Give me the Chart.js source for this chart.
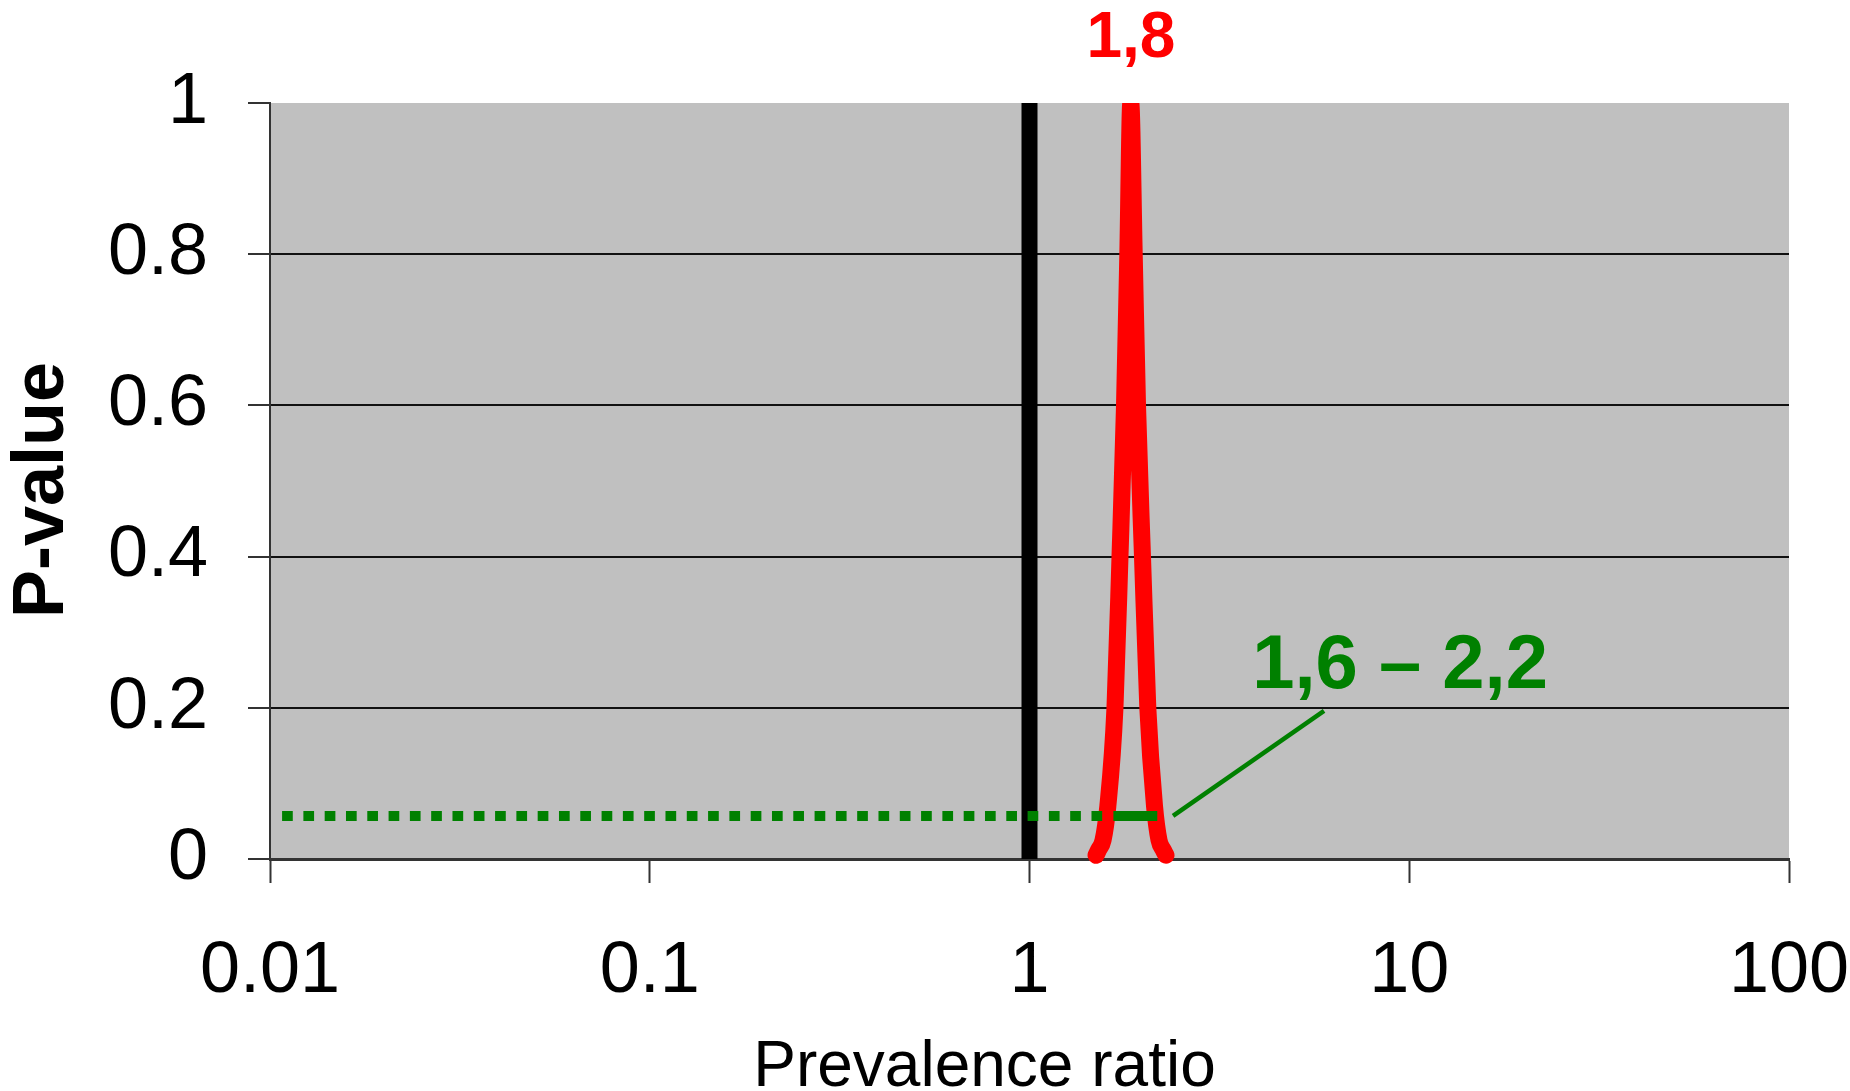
<!DOCTYPE html>
<html>
<head>
<meta charset="utf-8">
<script src="https://cdn.jsdelivr.net/npm/chart.js@4.4.0/dist/chart.umd.min.js"></script>
<style>
  html, body { margin: 0; padding: 0; background: #ffffff; }
  #wrap { position: relative; width: 1850px; height: 1091px; }
  canvas { display: block; }
</style>
</head>
<body>
<div id="wrap"><canvas id="c" width="1850" height="1091" style="width:1850px;height:1091px"></canvas></div>
<script>
// ---- data ----
const xTickValues = [0.01, 0.1, 1, 10, 100];
const xTickLabels = ['0.01', '0.1', '1', '10', '100'];
const yTickValues = [0, 0.2, 0.4, 0.6, 0.8, 1];
const yTickLabels = ['0', '0.2', '0.4', '0.6', '0.8', '1'];

// p-value function
const curveRatio  = [1.497, 1.52, 1.562, 1.608, 1.679, 1.731, 1.779, 1.815, 1.848, 1.887, 1.925, 1.984, 2.049, 2.134, 2.193, 2.25, 2.288];
const curvePValue = [0.005, 0.012, 0.025, 0.07, 0.2, 0.4, 0.6, 0.8, 1.0, 0.8, 0.6, 0.4, 0.2, 0.07, 0.025, 0.012, 0.005];

// null value line
const nullRatio = [1, 1];
const nullPValue = [0, 1];

// confidence interval line
const ciLevel = 0.057;
const ciDottedRatio = [0.01076, 1.564];
const ciSolidRatio = [1.663, 2.170];

// leader line to CI label
const leaderRatio = [2.388, 5.965];
const leaderPValue = [0.057, 0.196];

// annotation labels
const peakLabel = '1,8';
const peakLabelRatio = 1.85;
const ciLabel = '1,6 – 2,2';
const ciLabelRatio = 9.46;
const ciLabelPValue = 0.226;

const xTitle = 'Prevalence ratio';
const yTitle = 'P-value';

// ---- helpers ----
const toPoints = (xs, ys) => xs.map((x, i) => ({ x: x, y: ys[i] }));
const FONT = '"Liberation Sans", Arial, Helvetica, sans-serif';

const plotBg = {
  id: 'plotBg',
  beforeDraw(chart) {
    const { ctx, chartArea: a } = chart;
    ctx.save();
    ctx.fillStyle = '#C0C0C0';
    ctx.fillRect(a.left, a.top, a.right - a.left, a.bottom - a.top);
    ctx.restore();
  }
};

const textPlugin = {
  id: 'textPlugin',
  afterDraw(chart) {
    const { ctx, chartArea: a } = chart;
    const xs = chart.scales.x, ys = chart.scales.y;
    ctx.save();
    // peak label
    ctx.fillStyle = '#FF0000';
    ctx.font = 'bold 64px ' + FONT;
    ctx.textAlign = 'center';
    ctx.textBaseline = 'alphabetic';
    ctx.fillText(peakLabel, xs.getPixelForValue(peakLabelRatio), a.top - 46);
    // CI label
    ctx.fillStyle = '#008000';
    ctx.font = 'bold 76px ' + FONT;
    ctx.fillText(ciLabel, xs.getPixelForValue(ciLabelRatio), ys.getPixelForValue(ciLabelPValue));
    // x title
    ctx.fillStyle = '#000000';
    ctx.font = '64px ' + FONT;
    ctx.fillText(xTitle, (a.left + a.right) / 2 - 45, 1086);
    // y title
    ctx.translate(63, (a.top + a.bottom) / 2 + 9);
    ctx.rotate(-Math.PI / 2);
    ctx.font = 'bold 72px ' + FONT;
    ctx.fillText(yTitle, 0, 0);
    ctx.restore();
  }
};

new Chart(document.getElementById('c'), {
  type: 'line',
  data: {
    datasets: [
      {
        label: 'CI solid',
        data: toPoints(ciSolidRatio, [ciLevel, ciLevel]),
        borderColor: '#008000', borderWidth: 10, borderCapStyle: 'butt',
        pointRadius: 0, tension: 0, clip: 20
      },
      {
        label: 'CI dotted',
        data: toPoints(ciDottedRatio, [ciLevel, ciLevel]),
        borderColor: '#008000', borderWidth: 10, borderDash: [10.7, 10.6], borderCapStyle: 'butt',
        pointRadius: 0, tension: 0, clip: 20
      },
      {
        label: 'leader',
        data: toPoints(leaderRatio, leaderPValue),
        borderColor: '#008000', borderWidth: 4.5, borderCapStyle: 'butt',
        pointRadius: 0, tension: 0, clip: 20
      },
      {
        label: 'p-value function',
        data: toPoints(curveRatio, curvePValue),
        borderColor: '#FF0000', borderWidth: 17, borderCapStyle: 'round', borderJoinStyle: 'round',
        pointRadius: 0, tension: 0.4, cubicInterpolationMode: 'monotone',
        clip: { left: 20, right: 20, top: 0, bottom: 20 }
      },
      {
        label: 'null',
        data: toPoints(nullRatio, nullPValue),
        borderColor: '#000000', borderWidth: 16, borderCapStyle: 'butt',
        pointRadius: 0, tension: 0, clip: 0
      }
    ]
  },
  options: {
    responsive: false,
    maintainAspectRatio: false,
    animation: false,
    devicePixelRatio: 1,
    layout: { padding: { top: 103, right: 61, left: 0, bottom: 0 } },
    plugins: { legend: { display: false }, tooltip: { enabled: false }, title: { display: false } },
    scales: {
      x: {
        type: 'logarithmic',
        min: 0.01, max: 100,
        afterBuildTicks(scale) { scale.ticks = xTickValues.map(v => ({ value: v })); },
        afterFit(scale) { scale.height = 232; scale.paddingLeft = 0; scale.paddingRight = 0; },
        grid: { drawOnChartArea: false, drawTicks: true, tickLength: 24, tickColor: '#333333', tickWidth: 2 },
        border: { display: true, color: '#333333', width: 3 },
        ticks: {
          autoSkip: false, maxRotation: 0, minRotation: 0,
          padding: 46, color: '#000000',
          font: { family: FONT, size: 72 },
          callback(value, index) { return xTickLabels[index]; }
        }
      },
      y: {
        type: 'linear',
        min: 0, max: 1,
        afterBuildTicks(scale) { scale.ticks = yTickValues.map(v => ({ value: v })); },
        afterFit(scale) { scale.width = 270; scale.paddingTop = 0; scale.paddingBottom = 0; },
        grid: {
          color: (c) => (c.tick && c.tick.value >= 1 ? 'rgba(0,0,0,0)' : '#111111'),
          lineWidth: 2,
          drawTicks: true, tickLength: 22, tickColor: '#333333', tickWidth: 2
        },
        border: { display: true, color: '#333333', width: 2 },
        ticks: {
          padding: 40, color: '#000000',
          font: { family: FONT, size: 72 },
          callback(value, index) { return yTickLabels[index]; }
        }
      }
    }
  },
  plugins: [plotBg, textPlugin]
});
</script>
</body>
</html>
